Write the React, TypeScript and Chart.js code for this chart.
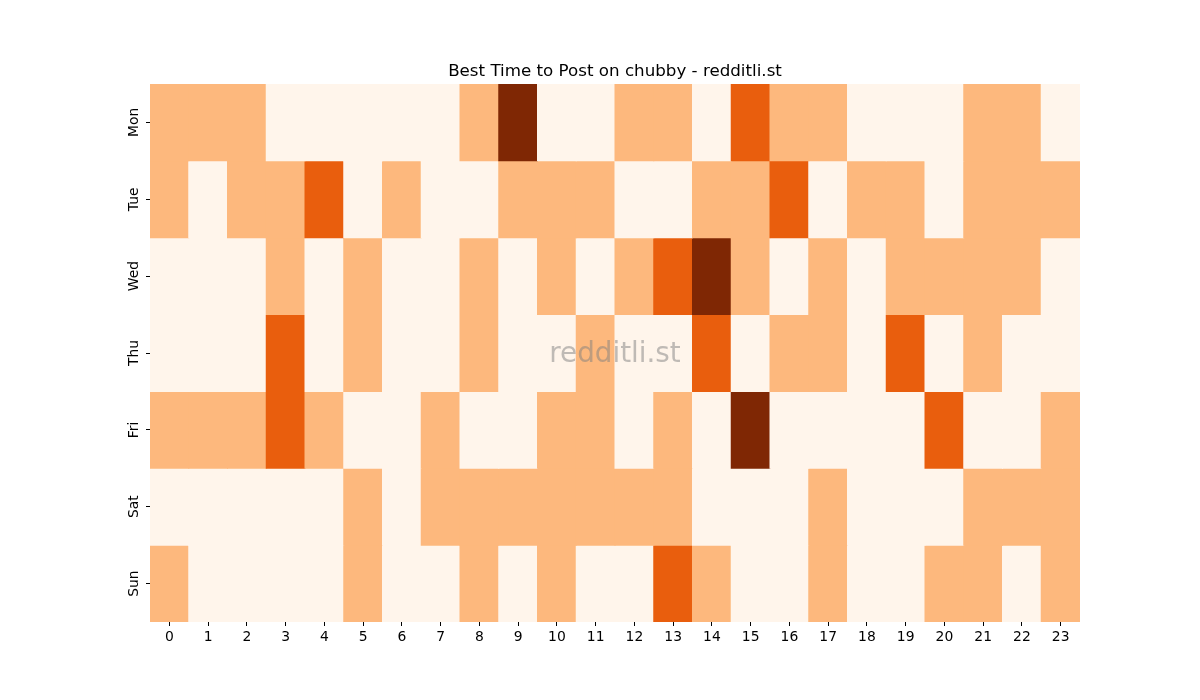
import React, { useEffect, useRef } from "react";
import { Chart, registerables } from "chart.js";

Chart.register(...registerables);

const hours: string[] = Array.from({ length: 24 }, (_, i) => String(i));
const days: string[] = ["Mon", "Tue", "Wed", "Thu", "Fri", "Sat", "Sun"];

// activity level per hour (0..3)
const mon = [1, 1, 1, 0, 0, 0, 0, 0, 1, 3, 0, 0, 1, 1, 0, 2, 1, 1, 0, 0, 0, 1, 1, 0];
const tue = [1, 0, 1, 1, 2, 0, 1, 0, 0, 1, 1, 1, 0, 0, 1, 1, 2, 0, 1, 1, 0, 1, 1, 1];
const wed = [0, 0, 0, 1, 0, 1, 0, 0, 1, 0, 1, 0, 1, 2, 3, 1, 0, 1, 0, 1, 1, 1, 1, 0];
const thu = [0, 0, 0, 2, 0, 1, 0, 0, 1, 0, 0, 1, 0, 0, 2, 0, 1, 1, 0, 2, 0, 1, 0, 0];
const fri = [1, 1, 1, 2, 1, 0, 0, 1, 0, 0, 1, 1, 0, 1, 0, 3, 0, 0, 0, 0, 2, 0, 0, 1];
const sat = [0, 0, 0, 0, 0, 1, 0, 1, 1, 1, 1, 1, 1, 1, 0, 0, 0, 1, 0, 0, 0, 1, 1, 1];
const sun = [1, 0, 0, 0, 0, 1, 0, 0, 1, 0, 1, 0, 0, 2, 1, 0, 0, 1, 0, 0, 1, 1, 0, 1];

const levels: number[][] = [mon, tue, wed, thu, fri, sat, sun];
const palette: string[] = ["#fff5eb", "#fdb87d", "#e95e0d", "#7f2704"];

const titleText = "Best Time to Post on chubby - redditli.st";
const watermark = "redditli.st";

const FONT = "'DejaVu Sans', sans-serif";

export default function App() {
  const ref = useRef<HTMLCanvasElement | null>(null);

  useEffect(() => {
    if (!ref.current) return;

    const overlay = {
      id: "overlay",
      afterDraw(chart: any) {
        const ctx = chart.ctx;
        const y = chart.scales.y;
        const x = chart.scales.x;
        const ca = chart.chartArea;
        ctx.save();
        // title
        ctx.fillStyle = "#000";
        ctx.font = `16.7px ${FONT}`;
        ctx.textAlign = "center";
        ctx.textBaseline = "alphabetic";
        ctx.fillText(titleText, (ca.left + ca.right) / 2, ca.top - 8.5);
        // y tick labels, rotated
        ctx.font = `13.9px ${FONT}`;
        ctx.textAlign = "center";
        ctx.textBaseline = "middle";
        days.forEach((d, i) => {
          const py = y.getPixelForValue(i + 0.5);
          ctx.save();
          ctx.translate(x.left - 16, py);
          ctx.rotate(-Math.PI / 2);
          ctx.fillText(d, 0, 0);
          ctx.restore();
        });
        // watermark
        ctx.font = `27.8px ${FONT}`;
        ctx.fillStyle = "rgba(128,128,128,0.5)";
        ctx.fillText(watermark, (ca.left + ca.right) / 2, (ca.top + ca.bottom) / 2 + 2);
        ctx.restore();
      },
    };

    const datasets = days.map((d, di) => ({
      label: d,
      data: hours.map(() => [di, di + 1]),
      backgroundColor: levels[di].map((v) => palette[v]),
      borderWidth: 0,
      borderSkipped: false,
      barPercentage: 1,
      categoryPercentage: 1,
      grouped: false,
      inflateAmount: 0.5,
    }));

    const chart = new Chart(ref.current, {
      type: "bar",
      data: { labels: hours, datasets: datasets as any },
      plugins: [overlay],
      options: {
        animation: false,
        responsive: false,
        maintainAspectRatio: false,
        layout: { padding: { left: 110, right: 120, top: 84, bottom: 38 } },
        plugins: {
          legend: { display: false },
          tooltip: { enabled: false },
          title: { display: false },
        },
        scales: {
          x: {
            type: "category",
            offset: true,
            grid: {
              display: true,
              offset: false,
              drawOnChartArea: false,
              drawTicks: true,
              tickLength: 4,
              tickColor: "#000",
            },
            border: { display: false },
            ticks: {
              color: "#000",
              font: { family: FONT, size: 13.9 },
              padding: 3,
              maxRotation: 0,
              autoSkip: false,
            },
            afterFit: (s: any) => {
              s.height = 40;
            },
          },
          y: {
            type: "linear",
            min: 0,
            max: 7,
            reverse: true,
            afterBuildTicks: (s: any) => {
              s.ticks = days.map((_, i) => ({ value: i + 0.5 }));
            },
            grid: {
              display: true,
              drawOnChartArea: false,
              drawTicks: true,
              tickLength: 4,
              tickColor: "#000",
            },
            border: { display: false },
            ticks: { display: false },
            afterFit: (s: any) => {
              s.width = 40;
            },
          },
        },
      },
    });

    return () => chart.destroy();
  }, []);

  return (
    <div style={{ position: "fixed", left: 0, top: 0, width: 1200, height: 700, background: "#fff" }}>
      <canvas ref={ref} width={1200} height={700} style={{ width: 1200, height: 700 }} />
    </div>
  );
}
